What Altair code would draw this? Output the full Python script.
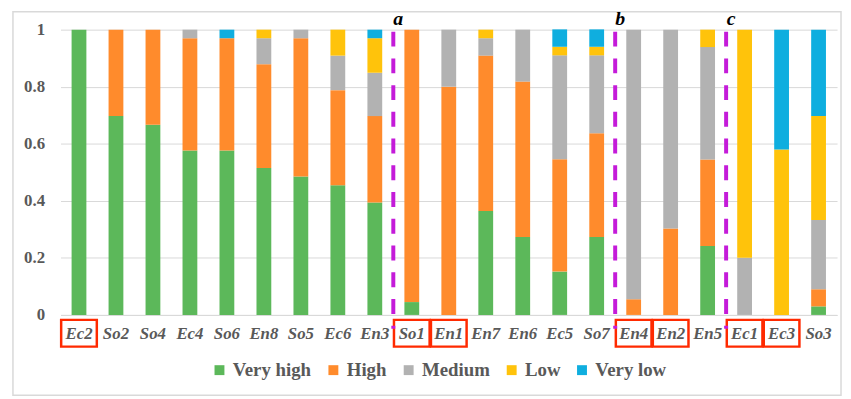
import altair as alt
import pandas as pd

categories = ["Ec2", "So2", "So4", "Ec4", "So6", "En8", "So5", "Ec6", "En3",
              "So1", "En1", "En7", "En6", "Ec5", "So7", "En4", "En2", "En5",
              "Ec1", "Ec3", "So3"]
levels = ["Very high", "High", "Medium", "Low", "Very low"]
very_high = [1.0, .697, .667, .576, .576, .515, .485, .455, .394, .045, 0, .364, .273, .152, .273, 0, 0, .242, 0, 0, .03]
high = [0, .303, .333, .394, .394, .364, .485, .333, .303, .955, .8, .545, .545, .394, .364, .055, .303, .303, 0, 0, .06]
medium = [0, 0, 0, .03, 0, .091, .03, .121, .152, 0, .2, .061, .182, .364, .273, .945, .697, .394, .2, 0, .243]
low = [0, 0, 0, 0, 0, .03, 0, .091, .121, 0, 0, .03, 0, .03, .03, 0, 0, .061, .8, .58, .364]
very_low = [0, 0, 0, 0, .03, 0, 0, 0, .03, 0, 0, 0, 0, .061, .061, 0, 0, 0, 0, .42, .303]
boxed = ["Ec2", "So1", "En1", "En4", "En2", "Ec1", "Ec3"]
dividers = ["So1", "En4", "Ec1"]   # dashed line drawn just before these categories
divider_labels = ["a", "b", "c"]
colors = ["#5CB85A", "#FF8B2C", "#B2B2B2", "#FFC30B", "#0FAEDF"]

series = [very_high, high, medium, low, very_low]
rows = []
for li, (lvl, vals) in enumerate(zip(levels, series)):
    for c, v in zip(categories, vals):
        rows.append({"cat": c, "level": lvl, "order": li, "value": v})
df = pd.DataFrame(rows)

W, H = 784, 288
FONT = "'Liberation Serif', 'Times New Roman', Times, serif"
GREY = "#595959"

xscale = alt.Scale(domain=categories, paddingInner=0.6, paddingOuter=0.3)
bscale = alt.Scale(domain=[0, len(categories)], nice=False, zero=False)


def xenc(**kw):
    return alt.X("cat:N", sort=categories, scale=xscale, title=None, **kw)


frame = alt.Chart(pd.DataFrame({"k": [0]})).mark_rect(
    fill="transparent", stroke="#D9D9D9", strokeWidth=1.5
).encode(x=alt.value(-48), x2=alt.value(788), y=alt.value(-18), y2=alt.value(369))

bars = alt.Chart(df).mark_bar().encode(
    x=xenc(axis=alt.Axis(labelFont=FONT, labelFontSize=17, labelFontStyle="italic",
                         labelFontWeight="bold", labelColor=GREY, ticks=False,
                         domainColor="#D9D9D9", labelAngle=0, labelPadding=11,
                         grid=False)),
    y=alt.Y("value:Q", stack="zero", title=None,
            scale=alt.Scale(domain=[0, 1], nice=False),
            axis=alt.Axis(values=[0, 0.2, 0.4, 0.6, 0.8, 1], format=".1~f",
                          labelFont=FONT, labelFontSize=17, labelFontWeight="bold",
                          labelColor=GREY, ticks=False, domain=False,
                          gridColor="#D9D9D9", gridWidth=1, labelPadding=16)),
    color=alt.Color("level:N", sort=levels,
                    scale=alt.Scale(domain=levels, range=colors),
                    legend=alt.Legend(title=None, orient="none", direction="horizontal",
                                      legendX=151, legendY=334, columns=5,
                                      symbolType="square", symbolSize=100,
                                      symbolStrokeWidth=0, labelFont=FONT,
                                      labelFontSize=19, labelFontWeight="bold",
                                      labelColor=GREY, columnPadding=12,
                                      labelOffset=4, padding=0)),
    order=alt.Order("order:Q", sort="ascending"),
)

div_df = pd.DataFrame({"pos": [categories.index(d) for d in dividers],
                       "label": divider_labels})
rules = alt.Chart(div_df).mark_rule(
    color="#C41BD9", strokeWidth=4, strokeDash=[15, 12]
).encode(x=alt.X("pos:Q", scale=bscale, axis=None),
         y=alt.value(2), y2=alt.value(302))

letters = alt.Chart(div_df).mark_text(
    font=FONT, fontSize=20, fontStyle="italic", fontWeight="bold",
    color="black", baseline="alphabetic", dx=5
).encode(x=alt.X("pos:Q", scale=bscale, axis=None), y=alt.value(-5), text="label:N")

box_df = pd.DataFrame({"cat": boxed})
boxes = alt.Chart(box_df).mark_bar(
    width=36, fill="transparent", stroke="#FF2A00", strokeWidth=2.5
).encode(x=xenc(axis=None), y=alt.value(293), y2=alt.value(320))

chart = alt.layer(frame, bars, boxes, rules, letters).resolve_scale(
    x="independent"
).properties(
    width=W, height=H,
    autosize=alt.AutoSizeParams(type="none"),
    padding={"left": 53, "top": 20, "right": 6, "bottom": 82},
).configure_view(stroke="transparent")

chart.save("out.html", embed_options={"renderer": "svg", "actions": False})
